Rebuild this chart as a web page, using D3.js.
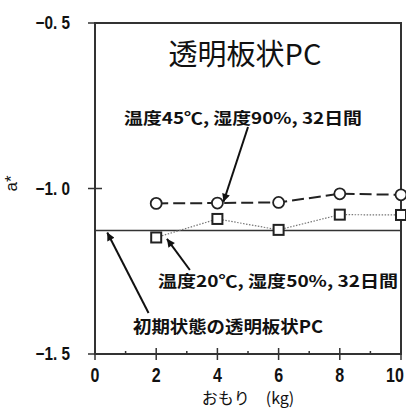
<!DOCTYPE html>
<html>
<head>
<meta charset="utf-8">
<script src="https://cdn.jsdelivr.net/npm/d3@7"></script>
<style>
  body { margin: 0; background: #fff; }
  svg { display: block; }
  .num { font-family: "Liberation Sans Narrow", "Liberation Sans", Arial, sans-serif; font-weight: bold; fill: #111; }
  .jp { font-family: "Noto Sans CJK JP", "Noto Sans", sans-serif; fill: #111; }
</style>
</head>
<body>
<svg id="chart" width="406" height="409"></svg>
<script>
// weight in kg
const weights = [2, 4, 6, 8, 10];
// 45C / 90% RH, 32 days
const hotHumid = [-1.045, -1.044, -1.042, -1.016, -1.019];
// 20C / 50% RH, 32 days
const normal = [-1.148, -1.092, -1.125, -1.079, -1.080];
// initial clear PC sheet
const initialValue = -1.127;
const yTicks = [-0.5, -1.0, -1.5];
const xTicks = [0, 2, 4, 6, 8, 10];
const xMinor = [1, 3, 5, 7, 9];

const margin = {top: 23, right: 5, bottom: 55, left: 95};
const width = 406 - margin.left - margin.right;
const height = 409 - margin.top - margin.bottom;

const svg = d3.select("#chart");
const g = svg.append("g").attr("transform", `translate(${margin.left},${margin.top})`);

const x = d3.scaleLinear().domain([0, 10]).range([0, width]);
const y = d3.scaleLinear().domain([-1.5, -0.5]).range([height, 0]);

// frame
g.append("rect")
    .attr("width", width).attr("height", height)
    .attr("fill", "none").attr("stroke", "#333").attr("stroke-width", 2);

// y ticks
g.selectAll(".yt").data(yTicks).enter().append("line")
    .attr("x1", -7).attr("x2", d => d === -1.0 ? 7 : 0)
    .attr("y1", d => y(d)).attr("y2", d => y(d))
    .attr("stroke", "#333").attr("stroke-width", 1.5);
g.selectAll(".yl").data(yTicks).enter().append("text")
    .attr("class", "num")
    .attr("transform", d => `translate(-25,${y(d)}) scale(0.85,1)`)
    .attr("dy", "0.36em")
    .attr("text-anchor", "end").style("font-size", "18px")
    .text(d => d3.format(".1f")(d).replace("-", "\u2212").replace(".", ". "));

// x ticks
g.selectAll(".xt").data(xTicks).enter().append("line")
    .attr("x1", d => x(d)).attr("x2", d => x(d))
    .attr("y1", height - 6).attr("y2", height + 6)
    .attr("stroke", "#333").attr("stroke-width", 1.5);
g.selectAll(".xm").data(xMinor).enter().append("line")
    .attr("x1", d => x(d)).attr("x2", d => x(d))
    .attr("y1", height - 3).attr("y2", height)
    .attr("stroke", "#333").attr("stroke-width", 1.5);
g.selectAll(".xl").data(xTicks).enter().append("text")
    .attr("class", "num")
    .attr("transform", d => `translate(${d === 10 ? x(d) - 6 : x(d)},${height + 28}) scale(0.8,1)`)
    .attr("text-anchor", "middle").style("font-size", "20px")
    .text(d => d);

// axis titles
g.append("text").attr("class", "jp")
    .attr("x", width / 2).attr("y", height + 50)
    .attr("text-anchor", "middle").style("font-size", "16px")
    .text("おもり\u3000(kg)");
svg.append("text").attr("class", "num")
    .attr("transform", `translate(17,${margin.top + y(-1.0) - 5}) rotate(-90)`)
    .attr("text-anchor", "middle").style("font-size", "17px").style("font-weight", "normal")
    .text("a*");

// initial level line
g.append("line")
    .attr("x1", x(0)).attr("x2", x(10))
    .attr("y1", y(initialValue)).attr("y2", y(initialValue))
    .attr("stroke", "#333").attr("stroke-width", 1.5);

const line = d3.line().x(d => x(d[0])).y(d => y(d[1]));

// 20C series: dotted grey line, squares
g.append("path")
    .datum(d3.zip(weights, normal))
    .attr("d", line).attr("fill", "none")
    .attr("stroke", "#777").attr("stroke-width", 1.2).attr("stroke-dasharray", "1.5,1.5");
g.selectAll(".sq").data(d3.zip(weights, normal)).enter().append("rect")
    .attr("x", d => x(d[0]) - 5).attr("y", d => y(d[1]) - 5)
    .attr("width", 10).attr("height", 10)
    .attr("fill", "#fff").attr("stroke", "#222").attr("stroke-width", 2);

// 45C series: dashed line, circles
g.append("path")
    .datum(d3.zip(weights, hotHumid))
    .attr("d", line).attr("fill", "none")
    .attr("stroke", "#222").attr("stroke-width", 2).attr("stroke-dasharray", "12,5");
g.selectAll(".ci").data(d3.zip(weights, hotHumid)).enter().append("circle")
    .attr("cx", d => x(d[0])).attr("cy", d => y(d[1])).attr("r", 5.5)
    .attr("fill", "#fff").attr("stroke", "#222").attr("stroke-width", 1.8);

// title
g.append("text").attr("class", "jp")
    .attr("x", width / 2 - 3).attr("y", 42)
    .attr("text-anchor", "middle").style("font-size", "29px")
    .text("透明板状PC");

// annotations
svg.append("defs").append("marker")
    .attr("id", "ah").attr("viewBox", "0 0 10 10")
    .attr("refX", 10).attr("refY", 5)
    .attr("markerWidth", 10).attr("markerHeight", 8)
    .attr("markerUnits", "userSpaceOnUse").attr("orient", "auto")
    .append("path").attr("d", "M0,0 L10,5 L0,10 z").attr("fill", "#111");

function arrow(x1, y1, x2, y2) {
    g.append("line")
        .attr("x1", x1).attr("y1", y1).attr("x2", x2).attr("y2", y2)
        .attr("stroke", "#111").attr("stroke-width", 2)
        .attr("marker-end", "url(#ah)");
}

function label(text, lx, ly, len, size) {
    g.append("text").attr("class", "jp")
        .attr("x", lx - margin.left).attr("y", ly)
        .attr("textLength", len).attr("lengthAdjust", "spacingAndGlyphs")
        .style("font-size", size + "px").style("font-weight", "bold")
        .text(text);
}

label("温度45℃, 湿度90%, 32日間", 124, 101, 238, 16);
arrow(x(5.0), 104, x(4.2), y(-1.040));

label("温度20℃, 湿度50%, 32日間", 158, 264, 240, 16);
arrow(x(3.1), 247, x(2.35), y(-1.152));

label("初期状態の透明板状PC", 133, 310, 190, 17);
arrow(x(1.75), 290, x(0.4), y(initialValue) + 2);
</script>
</body>
</html>
